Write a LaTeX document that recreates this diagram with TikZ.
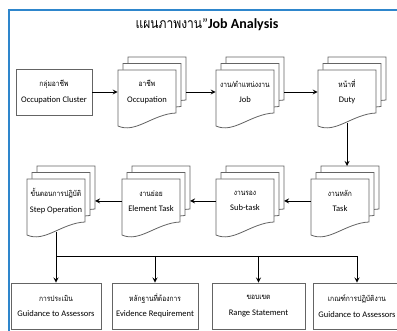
\documentclass[tikz,border=0pt]{standalone}
\usepackage{fontspec}
\setmainfont{Carlito}
\newfontfamily\thaifont[Script=Thai, FakeStretch=0.86]{Loma}
\definecolor{frameBlue}{RGB}{46,134,204}
\definecolor{edgeGray}{RGB}{100,100,100}
\newcommand{\docW}{58}
\newcommand{\docDx}{5}
\newcommand{\docDy}{6.5}
\newcommand{\boxFont}{\fontsize{6.4}{9}\selectfont}
\newcommand{\twoLine}[2]{{\thaifont\fontsize{5.8}{9}\selectfont #1}\\[2.5pt]#2}
% three stacked documents, front one named #1
\newcommand{\multiDoc}[4]{%
  \foreach \k in {2,1,0}{
    \begin{scope}[shift={({#2+\k*\docDx},{#3-\k*\docDy})}]
      \draw[docline] (0,0) -- (\docW,0) -- (\docW,43)
        .. controls ({0.6*\docW},44) and ({0.3*\docW},64) .. (0,56) -- cycle;
    \end{scope}
  }
  \node[doctext] (#1) at ({#2+\docW/2},{#3+22}) {#4};
  \coordinate (#1-w) at ({#2+\docW/2},{#3+53});
  \coordinate (#1-b) at ({#2+2*\docDx+\docW},{#3+22});
  \coordinate (#1-t) at ({#2+2*\docDx+\docW/2},{#3-2*\docDy});
}

\begin{document}
\begin{tikzpicture}[x=0.75pt, y=-0.75pt, >=stealth,
    docline/.style={draw=edgeGray, fill=white, line width=0.6pt},
    doctext/.style={align=center, font=\boxFont, inner sep=0pt,
      minimum width=43.5pt, minimum height=33pt},
    plainbox/.style={draw=edgeGray, line width=0.6pt, align=center,
      font=\boxFont, inner sep=0pt, minimum height=34.5pt},
    conn/.style={->, line width=0.7pt}]
\useasboundingbox (0,0) rectangle (397,331);
\clip (0,0) rectangle (397,331);

\draw[frameBlue, line width=1.6pt] (9,345) |- (410,10);

\node[font=\fontsize{10.5}{12}\selectfont] (title) at (207,25)
  {{\thaifont แผนภาพงาน}"\textbf{Job Analysis}};

% first row
\node[plainbox, minimum width=57pt] (clus) at (54,92)
  {\twoLine{กลุ่มอาชีพ}{Occupation Cluster}};
\multiDoc{occ}{118}{70}{\twoLine{อาชีพ}{Occupation}}
\multiDoc{job}{216}{70}{\twoLine{งาน/ตำแหน่งงาน}{Job}}
\multiDoc{duty}{318}{70}{\twoLine{หน้าที่}{Duty}}

% second row
\multiDoc{task}{311}{179}{\twoLine{งานหลัก}{Task}}
\multiDoc{sub}{216}{179}{\twoLine{งานรอง}{Sub-task}}
\multiDoc{elem}{122}{179}{\twoLine{งานย่อย}{Element Task}}
\multiDoc{step}{27}{179}{\twoLine{ขั้นตอนการปฏิบัติ}{Step Operation}}

% bottom row
\node[plainbox, minimum width=67.5pt] (assess) at (56,306)
  {\twoLine{การประเมิน}{Guidance to Assessors}};
\node[plainbox, minimum width=64.5pt] (evid) at (155,306)
  {\twoLine{หลักฐานที่ต้องการ}{Evidence Requirement}};
\node[plainbox, minimum width=69.75pt] (range) at (258.5,306)
  {\twoLine{ขอบเขต}{Range Statement}};
\node[plainbox, minimum width=66pt] (crit) at (357,306)
  {\twoLine{เกณฑ์การปฏิบัติงาน}{Guidance to Assessors}};

\draw[conn] (clus) -- (occ);
\draw[conn] (occ-b) -- (job);
\draw[conn] (job-b) -- (duty);
\draw[conn] (duty-w) -- (duty-w |- task-t);
\draw[conn] (task) -- (sub-b);
\draw[conn] (sub) -- (elem-b);
\draw[conn] (elem) -- (step-b);

\path (step-w) ++(0,24) coordinate (bus);
\draw[conn] (step-w) -- (bus) -| (crit);
\draw[conn] (bus) -- (assess);
\draw[conn] (bus -| evid) -- (evid);
\draw[conn] (bus -| range) -- (range);
\end{tikzpicture}
\end{document}
